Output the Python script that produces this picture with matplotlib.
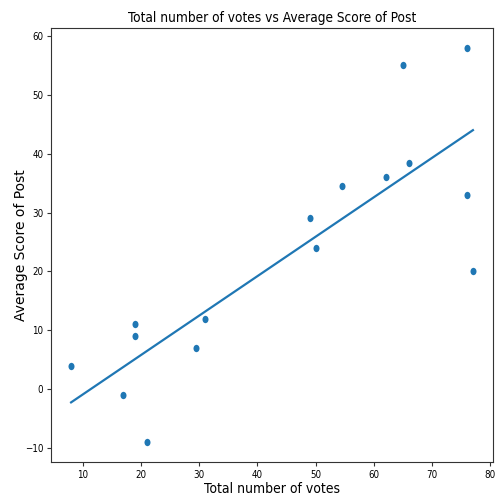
import numpy as np
import matplotlib
matplotlib.use("Agg")
import matplotlib.pyplot as plt
from matplotlib.path import Path
from matplotlib.transforms import Affine2D

# total votes and average score per post
votes = np.array([8, 17, 19, 19, 21, 29.5, 31, 49, 50, 54.5, 62, 65, 66, 76, 76, 77])
score = np.array([4, -1, 11, 9, -9, 7, 12, 29, 24, 34.5, 36, 55, 38.5, 58, 33, 20])

# the reference uses a narrow face for most texts
plt.rcParams['font.family'] = ['DejaVu Sans']
plt.rcParams['font.stretch'] = 'condensed'

# least squares fit line
m, b = np.polyfit(votes, score, 1)

# slightly tall dot marker, like the reference
dot = Path.unit_circle().transformed(Affine2D().scale(0.82, 1.0))

fig = plt.figure(figsize=(4.97, 4.97), dpi=100)
ax = fig.add_axes([0.1026, 0.0704, 0.8894, 0.8733])
ax.scatter(votes, score, s=28, marker=dot, color='#1f77b4', linewidths=0)
ax.plot(votes, m * votes + b, color='#1f77b4', linewidth=1.6)

ax.set_title("Total number of votes vs Average Score of Post", fontsize=9.8, pad=4.5)
ax.set_xlabel("Total number of votes", fontsize=10)
ax.set_ylabel("Average Score of Post", fontsize=10, fontstretch='normal')
ax.xaxis.set_label_coords(0.5, -0.046)
ax.yaxis.set_label_coords(-0.052, 0.5)
ax.set_yticks([-10, 0, 10, 20, 30, 40, 50, 60])
ax.set_xticks([10, 20, 30, 40, 50, 60, 70, 80])
ax.tick_params(labelsize=7, length=3, width=0.8, pad=2.5, color='#333333')
for s in ax.spines.values():
    s.set_linewidth(0.8)
    s.set_color('#333333')

fig.savefig("out.png", dpi=100)
